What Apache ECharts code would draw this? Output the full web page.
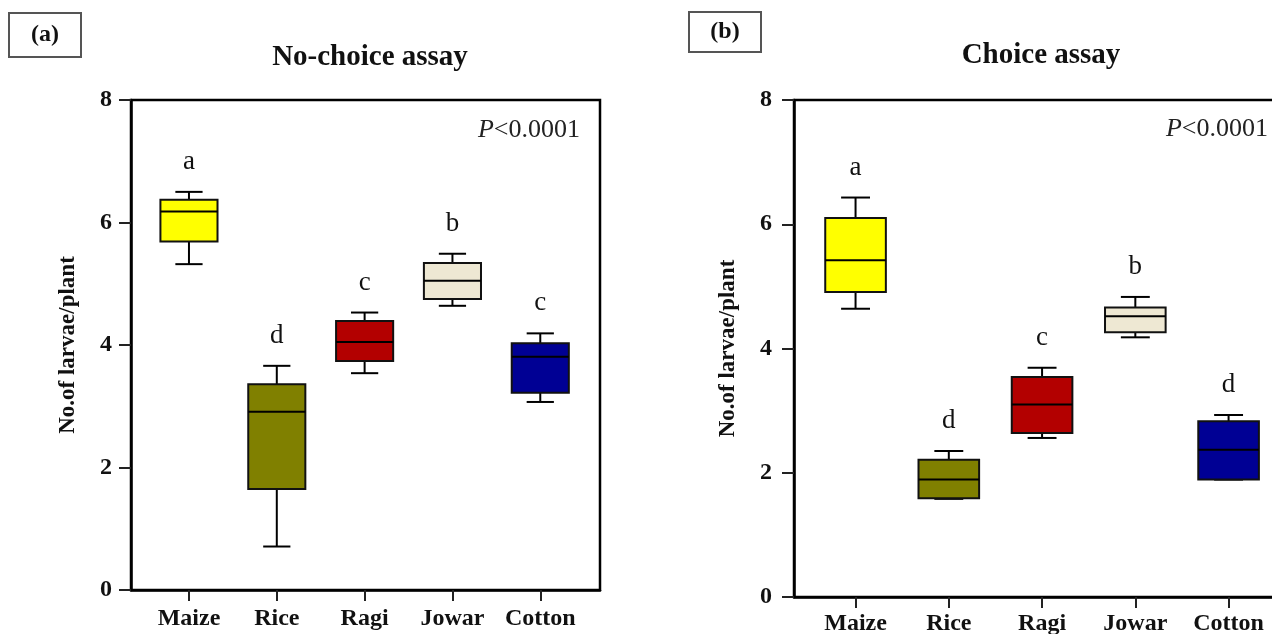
<!DOCTYPE html>
<html>
<head>
<meta charset="utf-8">
<script src="https://cdn.jsdelivr.net/npm/echarts@6/dist/echarts.min.js"></script>
<style>
html,body{margin:0;padding:0;background:#fff;}
#chart{width:1272px;height:634px;}
</style>
</head>
<body>
<div id="chart"></div>
<script>
// ---- data ----
const categories = ['Maize', 'Rice', 'Ragi', 'Jowar', 'Cotton'];
const categoryIndex = [0, 1, 2, 3, 4];
const boxColors = ['#FFFF00', '#808000', '#B30000', '#EEE8D3', '#000094'];

// No-choice assay: [min, Q1, median, Q3, max]
const ncMaize  = [5.32, 5.69, 6.18, 6.37, 6.50];
const ncRice   = [0.71, 1.65, 2.91, 3.36, 3.66];
const ncRagi   = [3.54, 3.74, 4.05, 4.39, 4.53];
const ncJowar  = [4.64, 4.75, 5.05, 5.34, 5.49];
const ncCotton = [3.07, 3.22, 3.81, 4.03, 4.19];
const ncLetters = ['a', 'd', 'c', 'b', 'c'];

// Choice assay: [min, Q1, median, Q3, max]
const chMaize  = [4.64, 4.91, 5.42, 6.10, 6.43];
const chRice   = [1.58, 1.59, 1.89, 2.21, 2.35];
const chRagi   = [2.56, 2.64, 3.10, 3.54, 3.69];
const chJowar  = [4.18, 4.26, 4.52, 4.66, 4.83];
const chCotton = [1.89, 1.89, 2.37, 2.83, 2.93];
const chLetters = ['a', 'd', 'c', 'b', 'd'];

const yTitle = 'No.of larvae/plant';

// ---- build ----
const ncData = [ncMaize, ncRice, ncRagi, ncJowar, ncCotton].map((v, i) => [categoryIndex[i]].concat(v));
const chData = [chMaize, chRice, chRagi, chJowar, chCotton].map((v, i) => [categoryIndex[i]].concat(v));

const SERIF = '"Liberation Serif","Times New Roman",serif';
const BOX_W = 0.65, CAP_W = 0.31;

function makeRender(letters) {
  return function (params, api) {
    const idx = params.dataIndex;
    const i = api.value(0);
    const mn = api.value(1), q1 = api.value(2), md = api.value(3), q3 = api.value(4), mx = api.value(5);
    const pMin = api.coord([i, mn]), pQ1 = api.coord([i, q1]), pMd = api.coord([i, md]);
    const pQ3 = api.coord([i, q3]), pMax = api.coord([i, mx]);
    const bw = api.size([BOX_W, 0])[0];
    const cw = api.size([CAP_W, 0])[0];
    const x = pMax[0];
    const ls = { stroke: '#000', lineWidth: 2 };
    return {
      type: 'group',
      children: [
        { type: 'line', shape: { x1: x, y1: pMax[1], x2: x, y2: pQ3[1] }, style: ls },
        { type: 'line', shape: { x1: x, y1: pQ1[1], x2: x, y2: pMin[1] }, style: ls },
        { type: 'line', shape: { x1: x - cw / 2, y1: pMax[1], x2: x + cw / 2, y2: pMax[1] }, style: ls },
        { type: 'line', shape: { x1: x - cw / 2, y1: pMin[1], x2: x + cw / 2, y2: pMin[1] }, style: ls },
        { type: 'rect', shape: { x: x - bw / 2, y: pQ3[1], width: bw, height: pQ1[1] - pQ3[1] },
          style: { fill: boxColors[idx], stroke: '#111', lineWidth: 2 } },
        { type: 'line', shape: { x1: x - bw / 2, y1: pMd[1], x2: x + bw / 2, y2: pMd[1] }, style: ls },
        { type: 'text', x: x, y: pMax[1] - 30,
          style: { text: letters[idx], font: '27px ' + SERIF, fill: '#111', align: 'center', verticalAlign: 'middle' } }
      ]
    };
  };
}

function xAxisDef(gridIndex, margin) {
  return {
    type: 'value', gridIndex: gridIndex, min: -0.66, max: 4.68,
    splitLine: { show: false },
    axisLine: { show: true, onZero: false, lineStyle: { color: '#000', width: 2.5 } },
    axisTick: { show: true, customValues: categoryIndex, length: 11, lineStyle: { color: '#222', width: 2 } },
    axisLabel: { show: true, customValues: categoryIndex, margin: margin,
      formatter: v => categories[Math.round(v)] || '',
      color: '#111', fontFamily: SERIF, fontWeight: 'bold', fontSize: 24 }
  };
}
function yAxisDef(gridIndex, margin, nameGap) {
  return {
    type: 'value', gridIndex: gridIndex, min: 0, max: 8, interval: 2,
    name: yTitle, nameLocation: 'middle', nameGap: nameGap, nameRotate: 90,
    nameTextStyle: { color: '#111', fontFamily: SERIF, fontWeight: 'bold', fontSize: 23 },
    splitLine: { show: false },
    axisLine: { show: true, onZero: false, lineStyle: { color: '#000', width: 2.5 } },
    axisTick: { show: true, length: 12, lineStyle: { color: '#222', width: 2 } },
    axisLabel: { margin: margin, color: '#111', fontFamily: SERIF, fontWeight: 'bold', fontSize: 24 }
  };
}

const chart = echarts.init(document.getElementById('chart'), null, { renderer: 'canvas' });
chart.setOption({
  backgroundColor: '#fff',
  animation: false,
  title: [
    { text: 'No-choice assay', left: 365, top: 38, textAlign: 'center',
      textStyle: { fontFamily: SERIF, fontWeight: 'bold', fontSize: 29, color: '#111' } },
    { text: 'Choice assay', left: 1036, top: 36, textAlign: 'center',
      textStyle: { fontFamily: SERIF, fontWeight: 'bold', fontSize: 29, color: '#111' } }
  ],
  grid: [
    { left: 131, top: 100, width: 469, height: 490, show: true, borderColor: '#000', borderWidth: 2.5,
      backgroundColor: 'transparent', containLabel: false, outerBoundsMode: 'none' },
    { left: 794, top: 100, width: 498, height: 497, show: true, borderColor: '#000', borderWidth: 2.5,
      backgroundColor: 'transparent', containLabel: false, outerBoundsMode: 'none' }
  ],
  xAxis: [xAxisDef(0, 17), xAxisDef(1, 15)],
  yAxis: [yAxisDef(0, 19, 51), yAxisDef(1, 22, 54)],
  series: [
    { type: 'custom', xAxisIndex: 0, yAxisIndex: 0, data: ncData, clip: false,
      encode: { x: 0, y: [1, 2, 3, 4, 5] }, renderItem: makeRender(ncLetters) },
    { type: 'custom', xAxisIndex: 1, yAxisIndex: 1, data: chData, clip: false,
      encode: { x: 0, y: [1, 2, 3, 4, 5] }, renderItem: makeRender(chLetters) }
  ],
  graphic: [
    { type: 'rect', shape: { x: 9, y: 13, width: 72, height: 44 }, style: { fill: '#fff', stroke: '#555', lineWidth: 2 } },
    { type: 'text', x: 45, y: 35, style: { text: '(a)', font: 'bold 24px ' + SERIF, fill: '#111', align: 'center', verticalAlign: 'middle' } },
    { type: 'rect', shape: { x: 689, y: 12, width: 72, height: 40 }, style: { fill: '#fff', stroke: '#555', lineWidth: 2 } },
    { type: 'text', x: 725, y: 32, style: { text: '(b)', font: 'bold 24px ' + SERIF, fill: '#111', align: 'center', verticalAlign: 'middle' } },
    { type: 'text', x: 580, y: 130, style: { text: '{i|P}<0.0001', rich: { i: { fontStyle: 'italic', font: 'italic 26px ' + SERIF, fill: '#222' } },
        font: '26px ' + SERIF, fill: '#222', align: 'right', verticalAlign: 'middle' } },
    { type: 'text', x: 1268, y: 129, style: { text: '{i|P}<0.0001', rich: { i: { fontStyle: 'italic', font: 'italic 26px ' + SERIF, fill: '#222' } },
        font: '26px ' + SERIF, fill: '#222', align: 'right', verticalAlign: 'middle' } }
  ]
});
</script>
</body>
</html>
